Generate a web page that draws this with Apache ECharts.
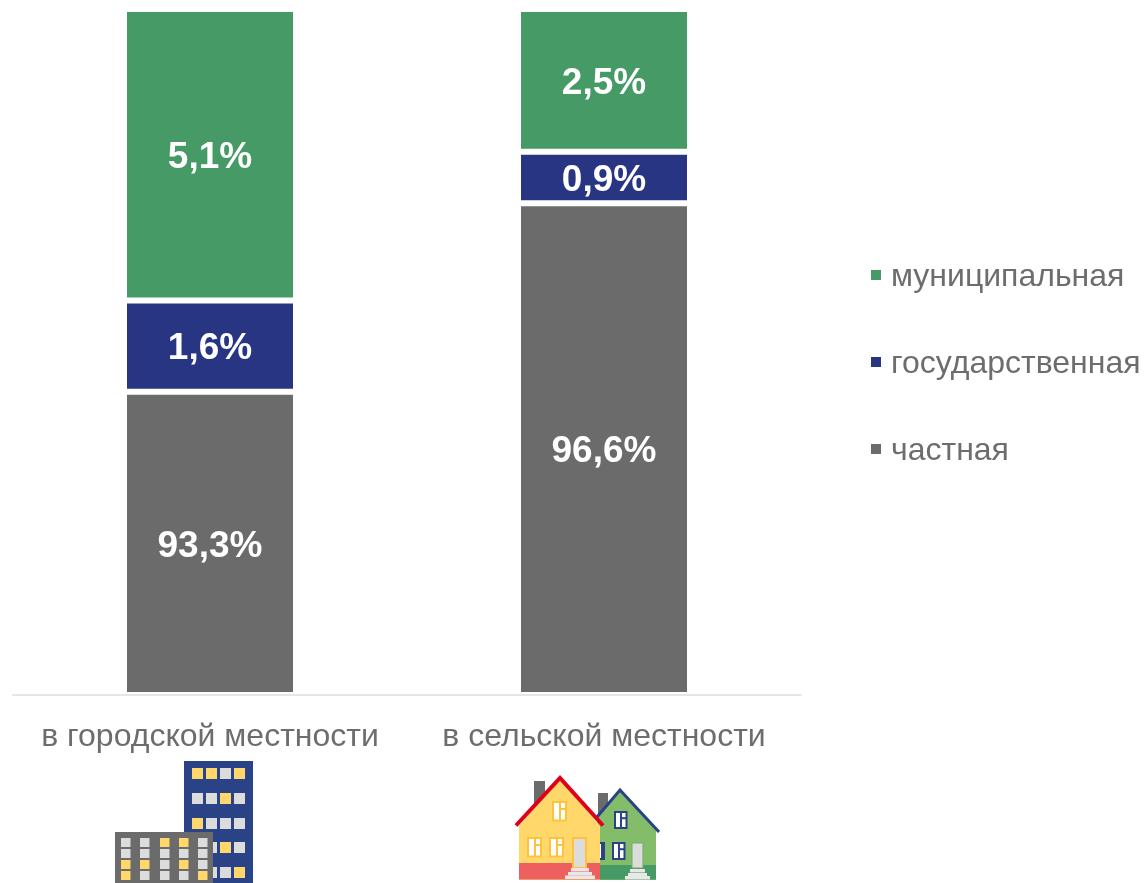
<!DOCTYPE html>
<html>
<head>
<meta charset="utf-8">
<style>html,body{margin:0;padding:0;background:#fff}#c{width:1144px;height:883px}</style>
<script src="https://cdn.jsdelivr.net/npm/echarts@6/dist/echarts.min.js"></script>
</head>
<body>
<div id="c"></div>
<script>
const categories = ['в городской местности', 'в сельской местности'];
const chastnaya = [93.3, 96.6];
const gosudarstvennaya = [1.6, 0.9];
const municipalnaya = [5.1, 2.5];
const legendOrder = ['муниципальная', 'государственная', 'частная'];

const FONT = '"Liberation Sans", Arial, sans-serif';
const TEXT = '#6d6d6d';
const fmt = p => p.value.toFixed(1).replace('.', ',') + '%';

function series(name, data, color) {
  return {
    name, type: 'bar', stack: 'total', data, barWidth: 172,
    itemStyle: { color, borderColor: '#fff', borderWidth: 3 },
    label: { show: true, position: 'inside', offset: [0, 3], formatter: fmt, color: '#fff',
      fontFamily: FONT, fontWeight: 'bold', fontSize: 37 }
  };
}

/* decorative icons under the axis */
const el = [];
const rect = (x, y, w, h, fill, stroke, lw) => el.push({ type: 'rect', silent: true,
  shape: { x, y, width: w, height: h },
  style: { fill, stroke: stroke || null, lineWidth: lw || 0 } });
const poly = (points, fill) => el.push({ type: 'polygon', silent: true, shape: { points }, style: { fill } });
const line = (points, stroke, lw) => el.push({ type: 'polyline', silent: true, shape: { points },
  style: { stroke, lineWidth: lw, fill: null } });

const Y = '#ffd76a', G = '#dcdcdc';
// tower
rect(184, 761, 69, 122, '#2a4387');
const tx = [192, 206, 220, 234], ty = [768, 793, 818, 842, 867];
[[Y,Y,G,Y],[G,G,Y,G],[Y,G,G,G],[G,G,Y,G],[G,G,G,Y]].forEach((r, i) =>
  r.forEach((c, j) => rect(tx[j], ty[i], 11, 11, c)));
// low block
rect(115, 832, 98, 51, '#6b6b6b');
const bx = [121, 140, 160, 179, 198], by = [838, 849, 860, 871];
[[G,G,Y,Y,G],[G,G,G,G,G],[Y,Y,G,Y,G],[Y,G,G,G,Y]].forEach((r, i) =>
  r.forEach((c, j) => rect(bx[j], by[i], 9.5, 9, c)));

function win(x, y, w, h, frame, pane) {
  rect(x, y, w, h, frame);
  const t = 2, mid = x + Math.round(w * 0.5);
  rect(x + t, y + t, mid - x - t - 1, h - 2 * t, pane);
  rect(mid + 1, y + t, x + w - t - mid - 1, (h - 2 * t) * 0.3, pane);
  rect(mid + 1, y + t + (h - 2 * t) * 0.3 + 2, x + w - t - mid - 1, (h - 2 * t) * 0.7 - 2, pane);
}
// green house (behind)
rect(598, 793, 10, 26, '#6b6b6b');
poly([[597, 817], [620, 790], [656, 830], [656, 880], [598, 880]], '#84bd6a');
rect(598, 865, 58, 14.5, '#459a66');
line([[597, 817], [620, 790], [659, 832]], '#2a4387', 3);
win(614, 811, 13.5, 18, '#2a4387', '#fff');
win(612, 842, 13.5, 18, '#2a4387', '#fff');
win(598, 842, 7, 18, '#2a4387', '#fff');
rect(632, 843, 11, 25, '#dcdcdc', '#6fae62', 1);
[[630, 869, 15], [628, 873, 19], [625, 876, 25]].forEach(s => rect(s[0], s[1], s[2], 3.5, '#e8e8e8'));
// yellow house
rect(534, 781, 11, 24, '#6b6b6b');
poly([[519, 826], [560, 778], [600, 826], [600, 880], [519, 880]], '#ffd76a');
rect(519, 863, 81, 16.5, '#ee5f5f');
line([[516, 825.5], [560, 778], [603, 825.5]], '#e0001b', 4);
win(552, 801, 15, 20.5, '#fdc43b', '#fff');
win(527, 837, 15, 20.5, '#fdc43b', '#fff');
win(549, 837, 15, 20.5, '#fdc43b', '#fff');
rect(573, 838, 13, 30, '#dcdcdc', '#fdc43b', 2);
[[571, 868, 18], [568, 872, 24], [565, 875.5, 30]].forEach(s => rect(s[0], s[1], s[2], 3.5, '#e8e8e8'));

const chart = echarts.init(document.getElementById('c'), null, { renderer: 'canvas' });
chart.setOption({
  animation: false,
  backgroundColor: '#fff',
  grid: { left: 13, right: 343, top: 9, bottom: 189.5, containLabel: false },
  xAxis: {
    type: 'category', data: categories, z: 5, offset: 1.5,
    axisLine: { show: true, lineStyle: { color: '#e6e6e6', width: 2 } },
    axisTick: { show: false },
    axisLabel: { interval: 0, margin: 26, color: TEXT, fontFamily: FONT, fontSize: 32 }
  },
  yAxis: { type: 'value', min: 88.02, max: 100, show: false, splitLine: { show: false } },
  legend: {
    orient: 'vertical', left: 871, top: 257, padding: 0, data: legendOrder, icon: 'rect',
    itemWidth: 10, itemHeight: 10, itemGap: 51, selectedMode: false,
    itemStyle: { borderWidth: 0 },
    formatter: n => '{a|' + n + '}',
    textStyle: { color: TEXT, fontFamily: FONT, fontSize: 32,
      rich: { a: { color: TEXT, fontFamily: FONT, fontSize: 32, lineHeight: 34, padding: [4, 0, 0, 5] } } }
  },
  series: [
    series('частная', chastnaya, '#6b6b6b'),
    series('государственная', gosudarstvennaya, '#283583'),
    series('муниципальная', municipalnaya, '#459a66')
  ],
  graphic: { elements: el }
});
</script>
</body>
</html>
